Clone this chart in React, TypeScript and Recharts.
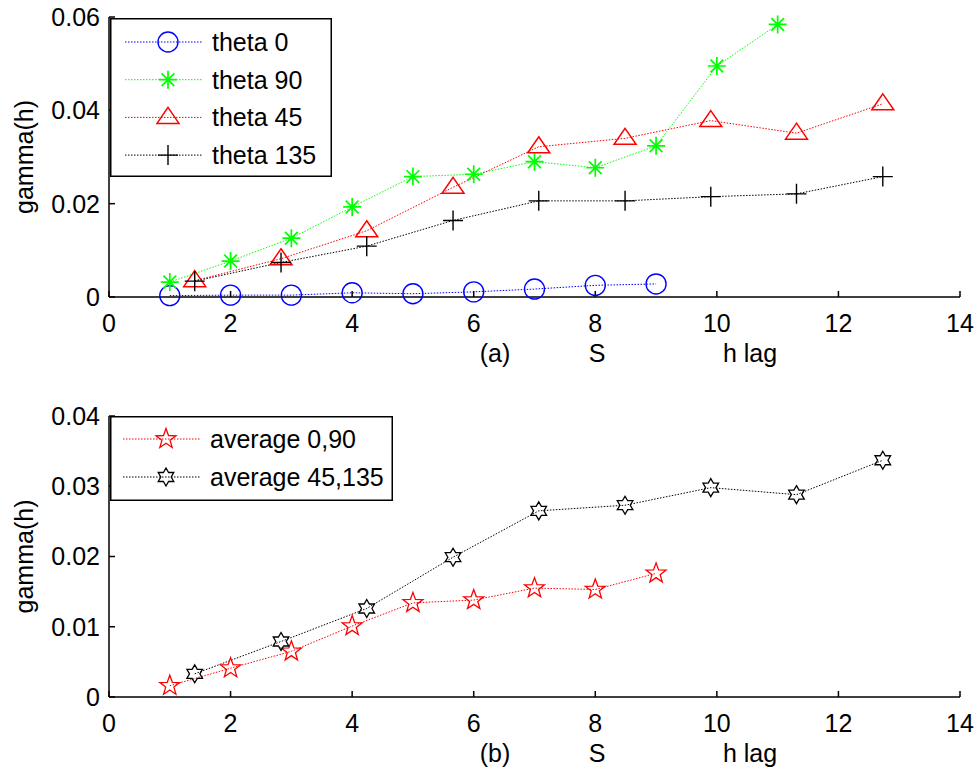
import { LineChart, Line, XAxis, YAxis, Legend } from 'recharts';

const FONT = '"Liberation Sans", Arial, sans-serif';
const FS = 25;

// lag distances (S units)
const lagAxial = [1, 2, 3, 4, 5, 6, 7, 8, 9, 10, 11];
const lagDiag = [1.41, 2.83, 4.24, 5.66, 7.07, 8.49, 9.9, 11.31, 12.73];

// (a) directional semivariograms
const theta0 = [0.0003, 0.0004, 0.0004, 0.0009, 0.0007, 0.0011, 0.0017, 0.0025, 0.0028];
const theta90 = [0.0032, 0.0077, 0.0126, 0.0193, 0.0258, 0.0263, 0.029, 0.0277, 0.0324, 0.0495, 0.0584];
const theta45 = [0.0035, 0.0082, 0.0142, 0.0235, 0.0322, 0.034, 0.0378, 0.0351, 0.0414];
const theta135 = [0.0034, 0.0074, 0.0109, 0.0164, 0.0206, 0.0206, 0.0215, 0.0221, 0.0258];

// (b) averaged
const avg0_90 = [0.0016, 0.0041, 0.0065, 0.0101, 0.0134, 0.0138, 0.0155, 0.0153, 0.0176];
const avg45_135 = [0.0033, 0.0079, 0.0126, 0.0199, 0.0265, 0.0273, 0.0298, 0.0288, 0.0337];

const xTicks = [0, 2, 4, 6, 8, 10, 12, 14];
const yTicksA = [0, 0.02, 0.04, 0.06];
const yTicksB = [0, 0.01, 0.02, 0.03, 0.04];

const toPoints = (xs: number[], ys: number[]) => ys.map((y, i) => ({ x: xs[i], y }));

type Kind = 'circle' | 'asterisk' | 'triangle' | 'plus' | 'pentagram' | 'hexagram';

const seriesA = [
  { name: 'theta 0', color: '#0000ff', marker: 'circle' as Kind, data: toPoints(lagAxial, theta0) },
  { name: 'theta 90', color: '#00ff00', marker: 'asterisk' as Kind, data: toPoints(lagAxial, theta90) },
  { name: 'theta 45', color: '#ff0000', marker: 'triangle' as Kind, data: toPoints(lagDiag, theta45) },
  { name: 'theta 135', color: '#000000', marker: 'plus' as Kind, data: toPoints(lagDiag, theta135) },
];

const seriesB = [
  { name: 'average 0,90', color: '#ff0000', marker: 'pentagram' as Kind, data: toPoints(lagAxial, avg0_90) },
  { name: 'average 45,135', color: '#000000', marker: 'hexagram' as Kind, data: toPoints(lagDiag, avg45_135) },
];

function starPath(x: number, y: number, n: number, R: number, r: number) {
  const pts: string[] = [];
  for (let i = 0; i < n * 2; i++) {
    const a = -Math.PI / 2 + (i * Math.PI) / n;
    const rad = i % 2 === 0 ? R : r;
    pts.push(`${x + rad * Math.cos(a)},${y + rad * Math.sin(a)}`);
  }
  return `M${pts.join('L')}Z`;
}

function Marker({ kind, x, y, color }: { kind: Kind; x: number; y: number; color: string }) {
  if (x == null || y == null) return null;
  switch (kind) {
    case 'circle':
      return <circle cx={x} cy={y} r={10} fill="none" stroke={color} strokeWidth={1.4} />;
    case 'asterisk': {
      const r = 9;
      const d = r * 0.707;
      return (
        <path
          d={`M${x - r},${y}H${x + r}M${x},${y - r}V${y + r}M${x - d},${y - d}L${x + d},${y + d}M${x - d},${y + d}L${x + d},${y - d}`}
          stroke={color}
          strokeWidth={1.7}
          fill="none"
        />
      );
    }
    case 'triangle':
      return <path d={`M${x},${y - 10}L${x + 11},${y + 6}L${x - 11},${y + 6}Z`} fill="none" stroke={color} strokeWidth={1.5} />;
    case 'plus':
      return <path d={`M${x - 10},${y}H${x + 10}M${x},${y - 10}V${y + 10}`} stroke={color} strokeWidth={1.4} fill="none" />;
    case 'pentagram':
      return <path d={starPath(x, y, 5, 10.5, 4.3)} fill="none" stroke={color} strokeWidth={1.3} />;
    case 'hexagram':
      return <path d={starPath(x, y, 6, 9, 5.2)} fill="none" stroke={color} strokeWidth={1.3} />;
  }
  return null;
}

function makeLegend(series: typeof seriesA, w: number, h: number, firstRow: number, gap: number, lineX: number, textX: number) {
  return () => (
    <svg width={w} height={h} style={{ display: 'block' }}>
      <rect x={0.75} y={0.75} width={w - 1.5} height={h - 1.5} fill="#fff" stroke="#000" strokeWidth={1.5} />
      {series.map((s, i) => {
        const cy = firstRow + i * gap;
        return (
          <g key={s.name}>
            <line x1={lineX} x2={lineX + 77} y1={cy} y2={cy} stroke={s.color} strokeWidth={1} strokeDasharray="1.5 1.5" />
            <Marker kind={s.marker} x={lineX + 43} y={cy} color={s.color} />
            <text x={textX} y={cy} dominantBaseline="central" fontSize={FS} fontFamily={FONT} fill="#000">
              {s.name}
            </text>
          </g>
        );
      })}
    </svg>
  );
}

const xLabel = (tag: string) => (props: any) => {
  const { x, y } = props.viewBox;
  const base = y + 65;
  return (
    <g fontSize={FS} fontFamily={FONT} fill="#000" textAnchor="middle">
      <text x={x + 386} y={base}>{tag}</text>
      <text x={x + 488} y={base}>S</text>
      <text x={x + 641} y={base}>h lag</text>
    </g>
  );
};

const yLabel = (props: any) => {
  const { x, y, height } = props.viewBox;
  const cx = x + 24;
  const cy = y + height / 2;
  return (
    <text
      x={cx}
      y={cy}
      transform={`rotate(-90, ${cx}, ${cy})`}
      textAnchor="middle"
      dominantBaseline="central"
      fontSize={FS}
      fontFamily={FONT}
      fill="#000"
    >
      gamma(h)
    </text>
  );
};

const tickStyle = { fill: '#000', fontSize: FS, fontFamily: FONT };
const blank = () => '';
const fmt = (v: number) => (v === 0 ? '0' : String(v));

function Panel({
  series,
  yMax,
  yTicks,
  tag,
  height,
  top,
  bottom,
  legend,
}: {
  series: typeof seriesA;
  yMax: number;
  yTicks: number[];
  tag: string;
  height: number;
  top: number;
  bottom: number;
  legend: { left: number; top: number; w: number; h: number; first: number; gap: number; lineX: number; textX: number };
}) {
  return (
    <LineChart width={979} height={height} margin={{ top, right: 19, left: 0, bottom }}>
      <XAxis
        dataKey="x"
        type="number"
        domain={[0, 14]}
        ticks={xTicks}
        allowDuplicatedCategory={false}
        height={70}
        tickSize={-6}
        tickMargin={23}
        tick={tickStyle}
        stroke="#000"
        strokeWidth={1.5}
        label={xLabel(tag)}
      />
      <XAxis
        xAxisId="top"
        orientation="top"
        type="number"
        domain={[0, 14]}
        ticks={xTicks}
        height={0}
        tickSize={-6}
        tickFormatter={blank}
        stroke="#000"
        strokeWidth={1.5}
      />
      <YAxis
        type="number"
        domain={[0, yMax]}
        ticks={yTicks}
        width={109}
        tickSize={-6}
        tickMargin={15}
        tick={tickStyle}
        tickFormatter={fmt}
        stroke="#000"
        strokeWidth={1.5}
        label={yLabel}
      />
      <YAxis
        yAxisId="right"
        orientation="right"
        type="number"
        domain={[0, yMax]}
        ticks={yTicks}
        width={0}
        tickSize={-6}
        tickFormatter={blank}
        stroke="#000"
        strokeWidth={1.5}
      />
      {series.map((s) => (
        <Line
          key={s.name}
          data={s.data}
          dataKey="y"
          name={s.name}
          type="linear"
          stroke={s.color}
          strokeWidth={1}
          strokeDasharray="1.5 1.5"
          isAnimationActive={false}
          activeDot={false}
          dot={(p: any) => <Marker key={`${s.name}-${p.index}`} kind={s.marker} x={p.cx} y={p.cy} color={s.color} />}
        />
      ))}
      <Legend
        layout="vertical"
        verticalAlign="middle"
        align="center"
        wrapperStyle={{ left: legend.left, top: legend.top, width: legend.w, height: legend.h }}
        content={makeLegend(series, legend.w, legend.h, legend.first, legend.gap, legend.lineX, legend.textX)}
      />
    </LineChart>
  );
}

export default function App() {
  return (
    <div style={{ width: 979, height: 772, background: '#fff', fontFamily: FONT }}>
      <style>{'body{margin:0;background:#fff}'}</style>
      <Panel
        series={seriesA}
        yMax={0.06}
        yTicks={yTicksA}
        tag="(a)"
        height={400}
        top={17}
        bottom={33}
        legend={{ left: 110, top: 18, w: 222, h: 159, first: 24, gap: 37.7, lineX: 15, textX: 102 }}
      />
      <Panel
        series={seriesB}
        yMax={0.04}
        yTicks={yTicksB}
        tag="(b)"
        height={372}
        top={16}
        bottom={5}
        legend={{ left: 110, top: 16, w: 283, h: 85, first: 23, gap: 38, lineX: 13, textX: 100 }}
      />
    </div>
  );
}
